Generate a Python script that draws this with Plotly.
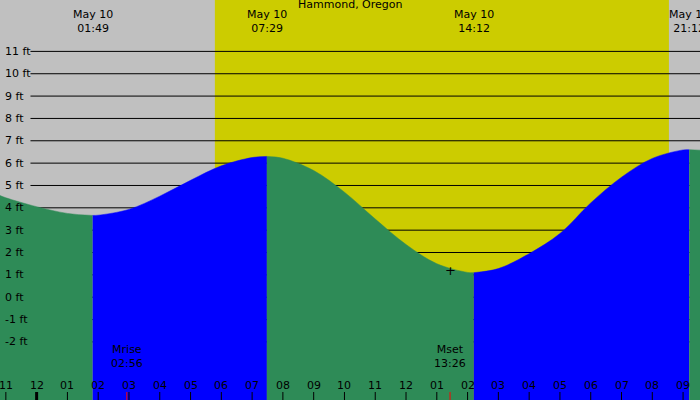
import plotly.graph_objects as go

# tide heights (ft), hours relative to May 10 00:00
fall1_h = [-1.19, -1, 0, 1, 1.82]
fall1_v = [4.55, 4.45, 4.05, 3.75, 3.66]
rise1_h = [1.82, 2, 3, 4, 5, 6, 7, 7.48]
rise1_v = [3.66, 3.67, 3.93, 4.52, 5.23, 5.88, 6.25, 6.3]
fall2_h = [7.48, 8, 9, 10, 11, 12, 13, 14, 14.2]
fall2_v = [6.3, 6.22, 5.67, 4.70, 3.50, 2.36, 1.50, 1.11, 1.1]
rise2_h = [14.2, 15, 16, 17, 18, 19, 20, 21, 21.2]
rise2_v = [1.1, 1.28, 1.95, 2.85, 4.22, 5.37, 6.21, 6.59, 6.6]
fall3_h = [21.2, 21.55]
fall3_v = [6.6, 6.58]

ft_levels = [-2, -1, 0, 1, 2, 3, 4, 5, 6, 7, 8, 9, 10, 11]
hour_ticks = list(range(-1, 22))
hour_labels = ["11", "12"] + ["%02d" % h for h in range(1, 13)] + ["%02d" % h for h in range(1, 10)]
sunrise, sunset = 5.79, 20.54
top_events = [(1.82, "May 10<br>01:49"), (7.48, "May 10<br>07:29"), (14.2, "May 10<br>14:12"), (21.2, "May 10<br>21:12")]
moon_events = [(2.93, "Mrise<br>02:56"), (13.43, "Mset<br>13:26")]

X0, X1 = -1.19, 21.55
Y0, Y1 = -4.6, 13.3
GREEN, BLUE = "#2e8b57", "#0000ff"
FONT = "DejaVu Sans"
FS = 11

fig = go.Figure()
for hs, vs, col in [(fall1_h, fall1_v, GREEN), (rise1_h, rise1_v, BLUE), (fall2_h, fall2_v, GREEN),
                    (rise2_h, rise2_v, BLUE), (fall3_h, fall3_v, GREEN)]:
    fig.add_trace(go.Scatter(x=[hs[0], hs[-1]], y=[Y0, Y0], mode="lines", line=dict(width=0),
                             hoverinfo="skip"))
    fig.add_trace(go.Scatter(x=hs, y=vs, fill="tonexty", fillcolor=col, mode="lines",
                             line=dict(width=0.5, color=col, shape="spline"), hoverinfo="skip"))

shapes = [
    dict(type="rect", xref="x", yref="y", x0=X0, x1=X1, y0=Y0, y1=Y1, fillcolor="#c0c0c0", line_width=0, layer="below"),
    dict(type="rect", xref="x", yref="y", x0=sunrise, x1=sunset, y0=Y0, y1=Y1, fillcolor="#cccc00", line_width=0, layer="below"),
]
for lv in ft_levels:
    shapes.append(dict(type="line", xref="x", yref="y", x0=-0.2, x1=X1, y0=lv, y1=lv,
                       line=dict(color="black", width=1), layer="below"))
for h in hour_ticks:
    shapes.append(dict(type="line", xref="x", yref="paper", x0=h, x1=h, y0=0, y1=0.02,
                       line=dict(color="black", width=3 if h == 0 else 1)))
for h, _ in moon_events:
    shapes.append(dict(type="line", xref="x", yref="paper", x0=h, x1=h, y0=0, y1=0.02,
                       line=dict(color="red", width=1)))

ann = []
for lv in ft_levels:
    ann.append(dict(x=0.004, xref="paper", y=lv, yref="y", text="%d ft" % lv, showarrow=False,
                    xanchor="left", yanchor="middle", font=dict(size=FS, color="black", family=FONT)))
for h, t in zip(hour_ticks, hour_labels):
    ann.append(dict(x=h, xref="x", y=0.015, yref="paper", text=t, showarrow=False,
                    xanchor="center", yanchor="bottom", font=dict(size=FS, color="black", family=FONT)))
for h, t in top_events:
    ann.append(dict(x=h, xref="x", y=0.985, yref="paper", text=t, showarrow=False,
                    xanchor="center", yanchor="top", font=dict(size=FS, color="black", family=FONT)))
for h, t in moon_events:
    ann.append(dict(x=h, xref="x", y=0.07, yref="paper", text=t, showarrow=False,
                    xanchor="center", yanchor="bottom", font=dict(size=FS, color="black", family=FONT)))
ann.append(dict(x=0.5, xref="paper", y=1.01, yref="paper", text="Hammond, Oregon", showarrow=False,
                xanchor="center", yanchor="top", font=dict(size=FS, color="black", family=FONT)))
ann.append(dict(x=13.43, xref="x", y=1.2, yref="y", text="+", showarrow=False,
                xanchor="center", yanchor="middle", font=dict(size=13, color="black", family=FONT)))

fig.update_layout(width=700, height=400, margin=dict(l=0, r=0, t=0, b=0), showlegend=False,
                  plot_bgcolor="#c0c0c0", paper_bgcolor="#c0c0c0",
                  xaxis=dict(range=[X0, X1], visible=False, fixedrange=True),
                  yaxis=dict(range=[Y0, Y1], visible=False, fixedrange=True),
                  shapes=shapes, annotations=ann)
fig.write_html("out.html", config={"displayModeBar": False},
               post_script="document.body.style.margin='0';")
